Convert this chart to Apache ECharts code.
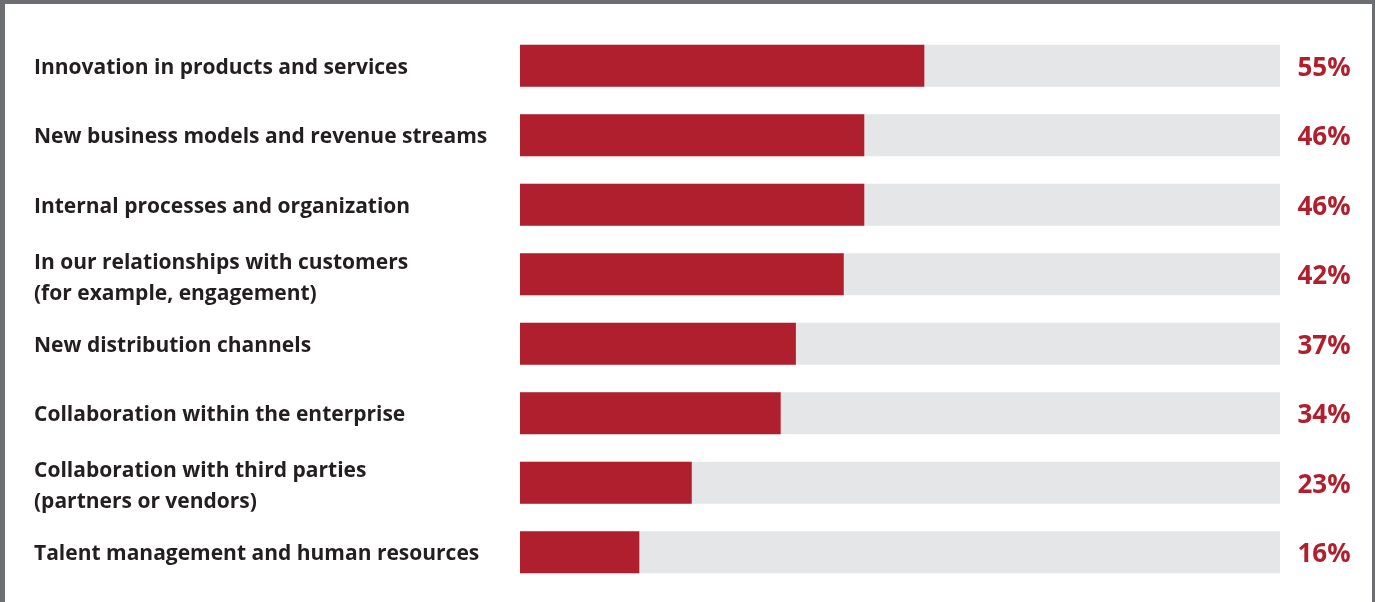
<!DOCTYPE html>
<html>
<head>
<meta charset="utf-8">
<script src="https://cdn.jsdelivr.net/npm/echarts@6/dist/echarts.min.js"></script>
<style>
  html, body { margin: 0; padding: 0; background: #ffffff; overflow: hidden; }
  #chart { position: absolute; left: 0; top: 0; width: 1380px; height: 602px; }
  #frame { position: absolute; left: 0; top: 0; width: 1375px; height: 620px; box-sizing: border-box;
           border-top: 4px solid #6d6e71; border-left: 5px solid #6d6e71; border-right: 3px solid #6d6e71;
           pointer-events: none; }
</style>
</head>
<body>
<div id="chart"></div>
<div id="frame"></div>
<script>
// Categories (top to bottom)
const categories = [
  'Innovation in products and services',
  'New business models and revenue streams',
  'Internal processes and organization',
  'In our relationships with customers\n(for example, engagement)',
  'New distribution channels',
  'Collaboration within the enterprise',
  'Collaboration with third parties\n(partners or vendors)',
  'Talent management and human resources'
];
// Bar lengths as drawn (share of the full gray track, %)
const barValues = [53.2, 45.3, 45.3, 42.6, 36.3, 34.3, 22.6, 15.7];
// Printed percentages
const printedShares = [55, 46, 46, 42, 37, 34, 23, 16];
const trackMax = 100;

const labelFont = { fontFamily: '"Open Sans", sans-serif', fontWeight: 'bold', fontSize: 21, color: '#231f20', lineHeight: 29 };

const chart = echarts.init(document.getElementById('chart'), null, { renderer: 'canvas' });
chart.setOption({
  animation: false,
  backgroundColor: '#ffffff',
  grid: { left: 520, right: 100, top: 31, bottom: 15, outerBoundsMode: 'none', containLabel: false },
  xAxis: { type: 'value', min: 0, max: trackMax, show: false },
  yAxis: [
    {
      type: 'category', data: categories, inverse: true,
      axisLine: { show: false }, axisTick: { show: false }, splitLine: { show: false },
      axisLabel: {
        align: 'left', margin: 486, ...labelFont,
        formatter: function (v) {
          const lines = v.split('\n');
          if (lines.length === 1) return '{s|' + v + '}';
          return lines.map((l, i) => (i === 0 ? '{f|' : '{n|') + l + '}').join('\n');
        },
        rich: {
          s: { ...labelFont, padding: [4, 0, 0, 0] },
          f: { ...labelFont, padding: [6, 0, 0, 0] },
          n: { ...labelFont, padding: [10, 0, 0, 0] }
        }
      }
    },
    {
      type: 'category', position: 'right', inverse: true,
      data: printedShares.map(v => v + '%'),
      axisLine: { show: false }, axisTick: { show: false }, splitLine: { show: false },
      axisLabel: {
        align: 'center', margin: 44, color: '#af1f2d',
        fontFamily: '"Open Sans", sans-serif', fontWeight: 'bold', fontSize: 26,
        formatter: v => '{p|' + v + '}',
        rich: {
          p: { color: '#af1f2d', fontFamily: '"Open Sans", sans-serif', fontWeight: 'bold', fontSize: 26, padding: [5, 0, 0, 0] }
        }
      }
    }
  ],
  series: [{
    type: 'bar', yAxisIndex: 0, data: barValues, barWidth: 42,
    itemStyle: { color: '#af1f2d' },
    showBackground: true,
    backgroundStyle: { color: '#e5e6e8' }
  }]
});
</script>
</body>
</html>
